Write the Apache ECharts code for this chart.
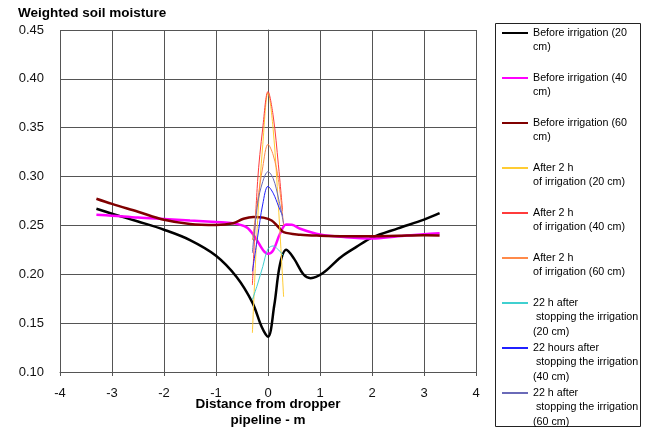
<!DOCTYPE html>
<html>
<head>
<meta charset="utf-8">
<script src="https://cdn.jsdelivr.net/npm/echarts@6/dist/echarts.min.js"></script>
<style>
  html, body { margin: 0; padding: 0; background: #fff; }
  #soil-chart { width: 645px; height: 432px; }
</style>
</head>
<body>
<div id="soil-chart"></div>
<script>
// distances from the dropper pipeline (m) and weighted soil moisture values
const xBefore20 = [-3.3, -3, -2.5, -2, -1.5, -1, -0.6, -0.3, -0.12, 0, 0.12, 0.23, 0.35, 0.5, 0.68, 0.82, 1.05, 1.4, 1.7, 2, 2.5, 3, 3.3];
const before20 = [0.267, 0.262, 0.254, 0.2456, 0.235, 0.219, 0.197, 0.171, 0.146, 0.136, 0.168, 0.21, 0.225, 0.216, 0.2, 0.196, 0.201, 0.2175, 0.228, 0.2375, 0.247, 0.256, 0.2626];

const xBefore40 = [-3.3, -3, -2.5, -2, -1.5, -1, -0.67, -0.41, -0.25, -0.09, 0, 0.1, 0.23, 0.35, 0.46, 0.62, 1, 1.5, 2, 2.5, 3, 3.3];
const before40 = [0.261, 0.26, 0.258, 0.2565, 0.255, 0.2535, 0.2523, 0.248, 0.238, 0.2244, 0.221, 0.2244, 0.2415, 0.251, 0.2507, 0.2466, 0.2407, 0.238, 0.2367, 0.239, 0.241, 0.2421];

const xBefore60 = [-3.3, -3, -2.5, -2, -1.5, -1, -0.67, -0.47, -0.28, -0.09, 0.07, 0.2, 0.3, 0.62, 1, 1.5, 2, 2.5, 3, 3.3];
const before60 = [0.2773, 0.272, 0.264, 0.2558, 0.2515, 0.2505, 0.2523, 0.2569, 0.2587, 0.258, 0.2551, 0.2483, 0.2431, 0.2405, 0.2395, 0.239, 0.239, 0.2395, 0.24, 0.2398];

const xNear = [-0.3, -0.2, -0.1, 0, 0.1, 0.2, 0.3];
const xNearShort = [-0.3, -0.2, -0.1, 0, 0.1, 0.2, 0.28];
const after2h20 = [0.14, 0.255, 0.333, 0.386, 0.348, 0.27, 0.177];
const after2h40 = [0.189, 0.295, 0.35, 0.387, 0.362, 0.312, 0.265];
const after2h60 = [0.235, 0.275, 0.31, 0.333, 0.322, 0.297, 0.25];
const stop22h20 = [0.174, 0.19, 0.208, 0.226, 0.229, 0.225, 0.219];
const stop22h40 = [0.203, 0.238, 0.272, 0.29, 0.283, 0.27, 0.26];
const stop22h60 = [0.222, 0.272, 0.295, 0.305, 0.298, 0.278, 0.252];

const seriesNames = [
  'Before irrigation (20\ncm)',
  'Before irrigation (40\ncm)',
  'Before irrigation (60\ncm)',
  'After 2 h\nof irrigation (20 cm)',
  'After 2 h\nof irrigation (40 cm)',
  'After 2 h\nof irrigation (60 cm)',
  '22 h after\n stopping the irrigation\n(20 cm)',
  '22 hours after\n stopping the irrigation\n(40 cm)',
  '22 h after\n stopping the irrigation\n(60 cm)'
];
const seriesX = [xBefore20, xBefore40, xBefore60, xNear, xNearShort, xNear, xNear, xNearShort, xNear];
const seriesY = [before20, before40, before60, after2h20, after2h40, after2h60, stop22h20, stop22h40, stop22h60];
const seriesColors = ['#000000', '#ff00ff', '#800000', '#ffcc33', '#ff3b3b', '#ff8a4a', '#40d0d0', '#2020ff', '#6a6ab8'];
const seriesWidths = [2.5, 2.5, 2.5, 1, 1, 1, 1, 1, 1];

const yTicks = [0.10, 0.15, 0.20, 0.25, 0.30, 0.35, 0.40, 0.45];
// legend rows: y of the first text line of each entry
const legendRowY = [32, 77, 122, 167, 212, 257, 302, 347, 392];

const FONT = '"Liberation Sans", Arial, sans-serif';
const LINE_H = 14.5;

const chart = echarts.init(document.getElementById('soil-chart'));

const series = seriesNames.map((name, i) => ({
  name: name,
  type: 'line',
  smooth: 0.35,
  symbol: 'none',
  showSymbol: false,
  color: seriesColors[i],
  lineStyle: { width: seriesWidths[i], color: seriesColors[i] },
  data: seriesX[i].map((x, j) => [x, seriesY[i][j]])
}));

// one legend per entry; blank lines on top keep the icon level with the first text line
const legends = seriesNames.map((name, i) => {
  const lines = name.split('\n').length;
  return {
    data: [name],
    orient: 'vertical',
    left: 501,
    top: legendRowY[i] + 1 - (2 * lines - 1) * LINE_H / 2,
    padding: 0,
    itemGap: 0,
    itemWidth: 26,
    itemHeight: 8,
    selectedMode: false,
    itemStyle: { opacity: 0 },
    formatter: n => '\n'.repeat(lines - 1) + n,
    textStyle: {
      fontFamily: FONT,
      fontSize: 10.7,
      color: '#000',
      lineHeight: LINE_H
    }
  };
});

chart.setOption({
  animation: false,
  backgroundColor: '#fff',
  title: {
    text: 'Weighted soil moisture',
    left: 18,
    top: 6,
    padding: 0,
    textStyle: { fontFamily: FONT, fontSize: 13.5, fontWeight: 'bold', color: '#000' }
  },
  legend: legends,
  grid: { left: 60, right: 169, top: 30, bottom: 60, outerBoundsMode: 'none' },
  xAxis: {
    type: 'value',
    min: -4,
    max: 4,
    interval: 1,
    name: 'Distance from dropper\npipeline - m',
    nameLocation: 'middle',
    nameGap: 24,
    nameMoveOverlap: false,
    nameTextStyle: { fontFamily: FONT, fontSize: 13.5, fontWeight: 'bold', color: '#000', lineHeight: 16.4 },
    axisLine: { onZero: false, lineStyle: { color: '#555' } },
    axisTick: { show: true, length: 4, lineStyle: { color: '#555' } },
    axisLabel: { fontFamily: FONT, fontSize: 13, color: '#111', margin: 15 },
    splitLine: { show: true, lineStyle: { color: '#555', width: 1 } }
  },
  yAxis: {
    type: 'value',
    min: yTicks[0],
    max: yTicks[yTicks.length - 1],
    interval: 0.05,
    axisLine: { show: true, lineStyle: { color: '#555' } },
    axisTick: { show: true, length: 4, lineStyle: { color: '#555' } },
    axisLabel: {
      fontFamily: FONT, fontSize: 13, color: '#111', margin: 16,
      formatter: v => v.toFixed(2)
    },
    splitLine: { show: true, lineStyle: { color: '#555', width: 1 } }
  },
  graphic: [{
    type: 'rect',
    shape: { x: 495.5, y: 23.5, width: 145, height: 403 },
    style: { fill: 'none', stroke: '#222', lineWidth: 1 },
    silent: true
  }],
  series: series
});
</script>
</body>
</html>
